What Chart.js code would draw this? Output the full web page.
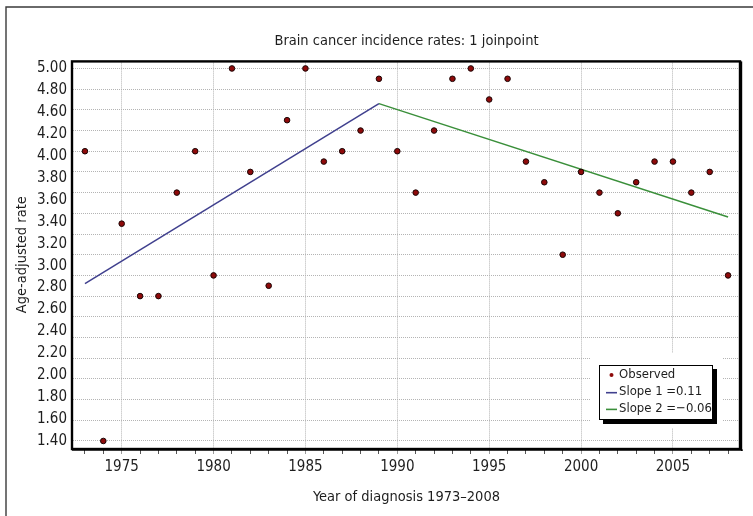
<!DOCTYPE html>
<html>
<head>
<meta charset="utf-8">
<script src="https://cdn.jsdelivr.net/npm/chart.js@4.4.1/dist/chart.umd.min.js"></script>
<style>
  html, body { margin: 0; padding: 0; background: #fff; }
</style>
</head>
<body>
<canvas id="chart" width="753" height="516"></canvas>
<script>
const years = [1973, 1974, 1975, 1976, 1977, 1978, 1979, 1980, 1981, 1982, 1983, 1984,
               1985, 1986, 1987, 1988, 1989, 1990, 1991, 1992, 1993, 1994, 1995, 1996,
               1997, 1998, 1999, 2000, 2001, 2002, 2003, 2004, 2005, 2006, 2007, 2008];
const observed = [4.2, 1.4, 3.5, 2.8, 2.8, 3.8, 4.2, 3.0, 5.0, 4.0, 2.9, 4.5,
                  5.0, 4.1, 4.2, 4.4, 4.9, 4.2, 3.8, 4.4, 4.9, 5.0, 4.7, 4.9,
                  4.1, 3.9, 3.2, 4.0, 3.8, 3.6, 3.9, 4.1, 4.1, 3.8, 4.0, 3.0];

// joinpoint model: fitted value at start, joinpoint and end
const joinYears = [1973, 1989, 2008];
const joinFit = [2.92, 4.66, 3.565];

const xLabelYears = [1975, 1980, 1985, 1990, 1995, 2000, 2005];
const yGridValues = [1.4, 1.6, 1.8, 2.0, 2.2, 2.4, 2.6, 2.8, 3.0, 3.2,
                     3.4, 3.6, 3.8, 4.0, 4.2, 4.4, 4.6, 4.8, 5.0];
// the source chart prints 18 evenly spaced labels (no 4.40) over its 19 grid lines
const yTickLabels = ["1.40", "1.60", "1.80", "2.00", "2.20", "2.40", "2.60", "2.80", "3.00",
                     "3.20", "3.40", "3.60", "3.80", "4.00", "4.20", "4.60", "4.80", "5.00"];

const FONT = '"Liberation Sans Narrow", "DejaVu Sans Condensed", sans-serif';
Chart.defaults.font.family = FONT;
Chart.defaults.font.size = 15;
Chart.defaults.color = "#1e1e1e";

const GRID = "#b4b4b4";

const frame = {
    id: "frame",
    beforeDraw(chart) {
        const ctx = chart.ctx;
        ctx.save();
        ctx.strokeStyle = "#3a3a3a";
        ctx.lineWidth = 1.4;
        ctx.beginPath();
        ctx.moveTo(6, chart.height);
        ctx.lineTo(6, 7);
        ctx.lineTo(chart.width, 7);
        ctx.stroke();
        ctx.restore();
    },
    afterDatasetsDraw(chart) {
        const { ctx, chartArea: a } = chart;
        ctx.save();
        ctx.strokeStyle = "#000";
        ctx.lineWidth = 2.4;
        ctx.strokeRect(a.left - 1, a.top, a.right - a.left + 1, a.bottom - a.top + 1);
        ctx.fillStyle = "#000";
        ctx.fillRect(a.right + 1, a.top, 1.2, a.bottom - a.top + 3);
        ctx.fillRect(a.left - 1, a.bottom + 1.5, a.right - a.left + 4, 1.2);
        ctx.restore();
    },
};

const boxLegend = {
    id: "boxLegend",
    afterDraw(chart) {
        const { ctx, chartArea: a } = chart;
        const w = 114, h = 55;
        const x = a.right - 27 - w, y = a.bottom - 28 - h;
        ctx.save();
        ctx.fillStyle = "#fff";
        ctx.fillRect(x - 9, y - 12, w + 19, h + 20);
        ctx.fillStyle = "#000";
        ctx.fillRect(x + 4, y + 4, w, h);
        ctx.fillStyle = "#fff";
        ctx.fillRect(x, y, w, h);
        ctx.strokeStyle = "#000";
        ctx.lineWidth = 1;
        ctx.strokeRect(x + 0.5, y + 0.5, w - 1, h - 1);

        ctx.font = `13px ${FONT}`;
        ctx.textBaseline = "middle";
        chart.data.datasets.forEach((ds, i) => {
            const cy = y + 10 + i * 16.7;
            if (ds.type === "line") {
                ctx.strokeStyle = ds.borderColor;
                ctx.lineWidth = 1.6;
                ctx.beginPath();
                ctx.moveTo(x + 7, cy + 1);
                ctx.lineTo(x + 18, cy + 1);
                ctx.stroke();
            } else {
                ctx.fillStyle = ds.backgroundColor;
                ctx.beginPath();
                ctx.arc(x + 12.5, cy, 2, 0, Math.PI * 2);
                ctx.fill();
            }
            ctx.fillStyle = "#1e1e1e";
            ctx.fillText(ds.label, x + 20, cy);
        });
        ctx.restore();
    },
};

const segment = (i) => [
    { x: joinYears[i], y: joinFit[i] },
    { x: joinYears[i + 1], y: joinFit[i + 1] },
];

new Chart(document.getElementById("chart"), {
    type: "scatter",
    data: {
        datasets: [
            {
                label: "Observed",
                data: years.map((yr, i) => ({ x: yr, y: observed[i] })),
                backgroundColor: "#8e0a0a",
                borderColor: "#1a0505",
                borderWidth: 1,
                pointRadius: 2.8,
            },
            {
                type: "line",
                label: "Slope 1 =0.11",
                data: segment(0),
                borderColor: "#40408e",
                borderWidth: 1.5,
                pointRadius: 0,
                fill: false,
            },
            {
                type: "line",
                label: "Slope 2 =\u22120.06",
                data: segment(1),
                borderColor: "#3a8f3a",
                borderWidth: 1.5,
                pointRadius: 0,
                fill: false,
            },
        ],
    },
    options: {
        responsive: false,
        animation: false,
        devicePixelRatio: 1,
        layout: { padding: { left: 8, right: 13, top: 8, bottom: 0 } },
        scales: {
            x: {
                type: "linear",
                min: 1972.35,
                max: 2008.65,
                afterBuildTicks: (axis) => { axis.ticks = years.map((v) => ({ value: v })); },
                afterFit: (axis) => { axis.height = 68; },
                ticks: {
                    autoSkip: false,
                    maxRotation: 0,
                    padding: 4,
                    callback: (v) => (xLabelYears.includes(v) ? String(v) : ""),
                },
                grid: {
                    color: (c) => (c.tick && xLabelYears.includes(c.tick.value) ? GRID : "transparent"),
                    tickColor: (c) => (c.tick && xLabelYears.includes(c.tick.value) ? "#999" : "#555"),
                    tickBorderDash: [],
                    tickLength: 6,
                },
                border: { display: false, dash: [1, 1] },
                title: {
                    display: true,
                    text: "Year of diagnosis 1973\u20132008",
                    font: { size: 14.5 },
                    padding: { top: 0, bottom: 10 },
                },
            },
            y: {
                type: "linear",
                position: "left",
                min: 1.332,
                max: 5.068,
                afterBuildTicks: (axis) => { axis.ticks = yGridValues.map((v) => ({ value: v })); },
                afterFit: (axis) => { axis.width = 0; },
                ticks: { display: false },
                grid: { color: GRID, drawTicks: false },
                border: { display: false, dash: [1, 1] },
            },
            yLabels: {
                type: "linear",
                position: "left",
                min: -0.32,
                max: 17.32,
                afterBuildTicks: (axis) => { axis.ticks = yTickLabels.map((_, i) => ({ value: i })); },
                afterFit: (axis) => { axis.width = 65; },
                ticks: {
                    autoSkip: false,
                    padding: 6,
                    callback: (v) => yTickLabels[v],
                },
                grid: { display: false, drawTicks: false },
                border: { display: false },
                title: {
                    display: true,
                    text: "Age-adjusted rate",
                    font: { size: 14.5 },
                    padding: { top: 6, bottom: 0 },
                },
            },
        },
        plugins: {
            legend: { display: false },
            tooltip: { enabled: false },
            title: {
                display: true,
                text: "Brain cancer incidence rates: 1 joinpoint",
                fullSize: false,
                font: { size: 14.5, weight: "normal" },
                color: "#1e1e1e",
                padding: { top: 25, bottom: 11 },
            },
        },
    },
    plugins: [frame, boxLegend],
});
</script>
</body>
</html>
